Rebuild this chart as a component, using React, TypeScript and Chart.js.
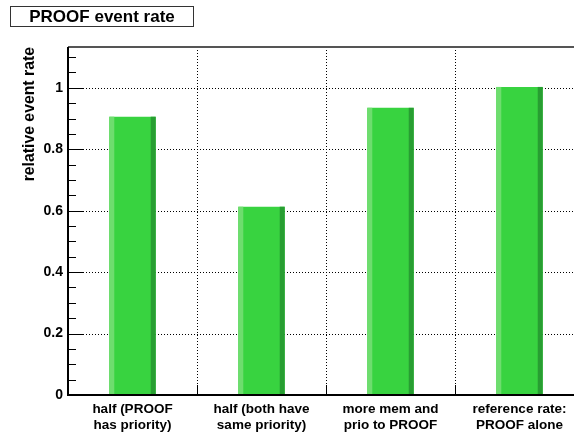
import React, { useEffect, useRef } from "react";
import { Chart, registerables } from "chart.js";

Chart.register(...registerables);

const titleText = "PROOF event rate";
const yAxisTitle = "relative event rate";
const categories: string[][] = [
  ["half (PROOF", "has priority)"],
  ["half (both have", "same priority)"],
  ["more mem and", "prio to PROOF"],
  ["reference rate:", "PROOF alone"],
];
const rates = [0.906, 0.613, 0.935, 1.003];
const yTickLabels = ["0", "0.2", "0.4", "0.6", "0.8", "1"];
const yMax = 1.133;
const yMajorStep = 0.2;
const yMinorStep = 0.05;

const FONT = "'Liberation Sans', Arial, Helvetica, sans-serif";
const GREEN = "rgb(56, 211, 64)";
const GREEN_LIGHT = "rgb(110, 221, 110)";
const GREEN_DARK = "rgb(40, 158, 50)";

const decoPlugin = {
  id: "rootDeco",
  beforeDatasetsDraw(chart: any) {
    const { ctx, chartArea: a, scales } = chart;
    const x = scales.x;
    const y = scales.y;
    ctx.save();
    ctx.setLineDash([1, 2]);
    ctx.strokeStyle = "#000";
    ctx.lineWidth = 1;
    for (let v = yMajorStep; v < yMax; v += yMajorStep) {
      const py = Math.round(y.getPixelForValue(v)) + 0.5;
      ctx.beginPath();
      ctx.moveTo(a.left, py);
      ctx.lineTo(a.right, py);
      ctx.stroke();
    }
    for (let i = 0; i < categories.length - 1; i++) {
      const bx = Math.round((x.getPixelForValue(i) + x.getPixelForValue(i + 1)) / 2) + 0.5;
      ctx.beginPath();
      ctx.moveTo(bx, a.top);
      ctx.lineTo(bx, a.bottom);
      ctx.stroke();
    }
    ctx.restore();
  },
  afterDatasetsDraw(chart: any) {
    const { ctx, chartArea: a, scales } = chart;
    const x = scales.x;
    const y = scales.y;
    ctx.save();
    const meta = chart.getDatasetMeta(0);
    meta.data.forEach((el: any) => {
      const p = el.getProps(["x", "y", "base", "width"], true);
      const l = p.x - p.width / 2;
      const r = p.x + p.width / 2;
      ctx.fillStyle = GREEN_LIGHT;
      ctx.fillRect(l, p.y, 5, p.base - p.y);
      ctx.fillStyle = GREEN_DARK;
      ctx.fillRect(r - 5, p.y, 5, p.base - p.y);
    });
    ctx.strokeStyle = "#555";
    ctx.lineWidth = 2;
    ctx.beginPath();
    ctx.moveTo(a.left, a.top);
    ctx.lineTo(a.right, a.top);
    ctx.stroke();
    ctx.strokeStyle = "#000";
    ctx.lineWidth = 2;
    ctx.beginPath();
    ctx.moveTo(a.left, a.top);
    ctx.lineTo(a.left, a.bottom);
    ctx.lineTo(a.right, a.bottom);
    ctx.stroke();
    ctx.lineWidth = 1;
    const nMinor = Math.floor(yMax / yMinorStep + 1e-6);
    for (let k = 0; k <= nMinor; k++) {
      const v = k * yMinorStep;
      const major = k % Math.round(yMajorStep / yMinorStep) === 0;
      const py = Math.round(y.getPixelForValue(v)) + 0.5;
      ctx.beginPath();
      ctx.moveTo(a.left, py);
      ctx.lineTo(a.left + (major ? 16 : 8), py);
      ctx.stroke();
    }
    for (let i = 0; i < categories.length - 1; i++) {
      const bx = Math.round((x.getPixelForValue(i) + x.getPixelForValue(i + 1)) / 2) + 0.5;
      ctx.beginPath();
      ctx.moveTo(bx, a.bottom);
      ctx.lineTo(bx, a.bottom - 10);
      ctx.stroke();
    }
    ctx.fillStyle = "#fff";
    ctx.fillRect(10, 6, 184, 21);
    ctx.strokeStyle = "#333";
    ctx.lineWidth = 1;
    ctx.strokeRect(10.5, 6.5, 183, 20);
    ctx.fillStyle = "#000";
    ctx.font = `bold 17px ${FONT}`;
    ctx.textAlign = "center";
    ctx.textBaseline = "middle";
    ctx.fillText(titleText, 102, 17);
    ctx.translate(30, a.top);
    ctx.rotate(-Math.PI / 2);
    ctx.font = `bold 15.8px ${FONT}`;
    ctx.textAlign = "right";
    ctx.textBaseline = "middle";
    ctx.fillText(yAxisTitle, 0, 0);
    ctx.restore();
  },
};

export default function App() {
  const ref = useRef<HTMLCanvasElement>(null);
  useEffect(() => {
    if (!ref.current) return;
    const chart = new Chart(ref.current, {
      type: "bar",
      data: {
        labels: categories,
        datasets: [
          {
            data: rates,
            backgroundColor: GREEN,
            borderWidth: 0,
            categoryPercentage: 1,
            barPercentage: 0.36,
          },
        ],
      },
      options: {
        animation: false,
        responsive: false,
        devicePixelRatio: 1,
        layout: { padding: { top: 47, right: 16, bottom: 0, left: 0 } },
        plugins: {
          legend: { display: false },
          title: { display: false },
          tooltip: { enabled: false },
        },
        scales: {
          x: {
            type: "category",
            offset: true,
            grid: { display: false, drawTicks: false },
            border: { display: false },
            ticks: {
              color: "#000",
              padding: 6,
              maxRotation: 0,
              autoSkip: false,
              font: { family: FONT, size: 13.5, weight: "bold", lineHeight: "16px" },
            },
            afterFit: (s: any) => {
              s.height = 37;
            },
          },
          y: {
            type: "linear",
            min: 0,
            max: yMax,
            grid: { display: false, drawTicks: false },
            border: { display: false },
            ticks: {
              stepSize: yMajorStep,
              includeBounds: false,
              color: "#000",
              padding: 5,
              font: { family: FONT, size: 14, weight: "bold" },
              callback: (_v: any, i: number) => yTickLabels[i] ?? "",
            },
            afterFit: (s: any) => {
              s.width = 68;
            },
          },
        },
      },
      plugins: [decoPlugin],
    } as any);
    return () => chart.destroy();
  }, []);
  return (
    <div style={{ position: "fixed", left: 0, top: 0, width: 600, height: 432, overflow: "hidden", background: "#fff" }}>
      <canvas ref={ref} width={600} height={432} style={{ display: "block" }} />
    </div>
  );
}
